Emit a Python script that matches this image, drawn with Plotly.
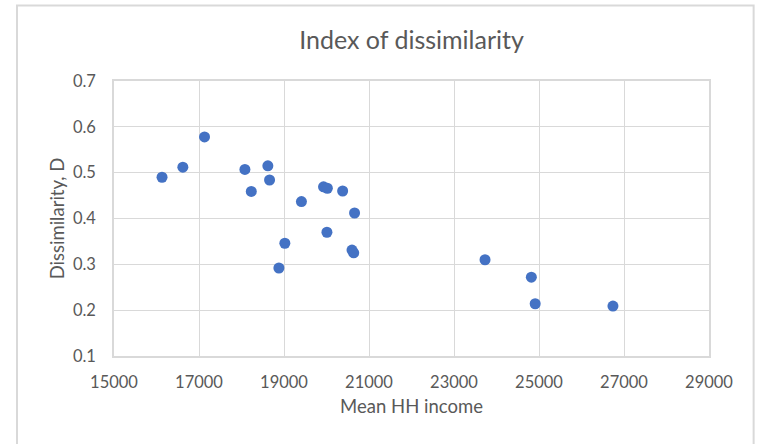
import plotly.graph_objects as go

# Mean household income vs. index of dissimilarity
mean_hh_income = [16130, 16620, 17130, 18080, 18620, 18660, 18230, 19410, 19930,
                  20020, 20380, 20660, 20010, 19020, 20600, 20640, 18880, 23730,
                  24820, 24910, 26740]
dissimilarity = [0.490, 0.512, 0.578, 0.507, 0.515, 0.484, 0.459, 0.437, 0.469,
                 0.466, 0.460, 0.412, 0.370, 0.346, 0.331, 0.325, 0.292, 0.310,
                 0.272, 0.214, 0.209]

x_ticks = [15000, 17000, 19000, 21000, 23000, 25000, 27000, 29000]
y_ticks = [0.1, 0.2, 0.3, 0.4, 0.5, 0.6, 0.7]

FONT = "Lato, 'Open Sans', sans-serif"
GRID = "#d9d9d9"
TEXT = "#595959"

fig = go.Figure(
    go.Scatter(
        x=mean_hh_income,
        y=dissimilarity,
        mode="markers",
        marker=dict(color="#4472C4", size=11, line=dict(width=0)),
        showlegend=False,
        hoverinfo="x+y",
    )
)

fig.update_layout(
    width=767,
    height=444,
    margin=dict(l=114, r=58, t=81, b=88),
    paper_bgcolor="white",
    plot_bgcolor="white",
    font=dict(family=FONT, color=TEXT),
    title=dict(
        text="Index of dissimilarity",
        x=0.5,
        xref="paper",
        xanchor="center",
        y=0.91,
        yanchor="middle",
        font=dict(size=25, color=TEXT, family=FONT),
    ),
    xaxis=dict(
        range=[15000, 29000],
        tickvals=x_ticks,
        ticktext=[str(v) for v in x_ticks],
        showgrid=True,
        gridcolor=GRID,
        gridwidth=1,
        showline=True,
        linecolor=GRID,
        linewidth=1.5,
        mirror=True,
        zeroline=False,
        ticks="outside",
        ticklen=10,
        tickcolor="rgba(0,0,0,0)",
        tickfont=dict(size=16.5, color=TEXT),
        title=dict(text="Mean HH income", font=dict(size=18.5, color=TEXT), standoff=10),
    ),
    yaxis=dict(
        range=[0.1, 0.7],
        tickvals=y_ticks,
        ticktext=[f"{v:.1f}" for v in y_ticks],
        showgrid=True,
        gridcolor=GRID,
        gridwidth=1,
        showline=True,
        linecolor=GRID,
        linewidth=1.5,
        mirror=True,
        zeroline=False,
        ticks="outside",
        ticklen=13,
        tickcolor="rgba(0,0,0,0)",
        tickfont=dict(size=16.5, color=TEXT),
        title=dict(text="Dissimilarity, D", font=dict(size=18.5, color=TEXT), standoff=3),
    ),
)

# Outer chart frame
fig.add_shape(
    type="rect",
    xref="paper", yref="paper",
    x0=-0.163, x1=1.075, y0=-0.36, y1=1.275,
    line=dict(color=GRID, width=2),
    fillcolor="rgba(0,0,0,0)",
    layer="below",
)

fig.write_html("out.html")
